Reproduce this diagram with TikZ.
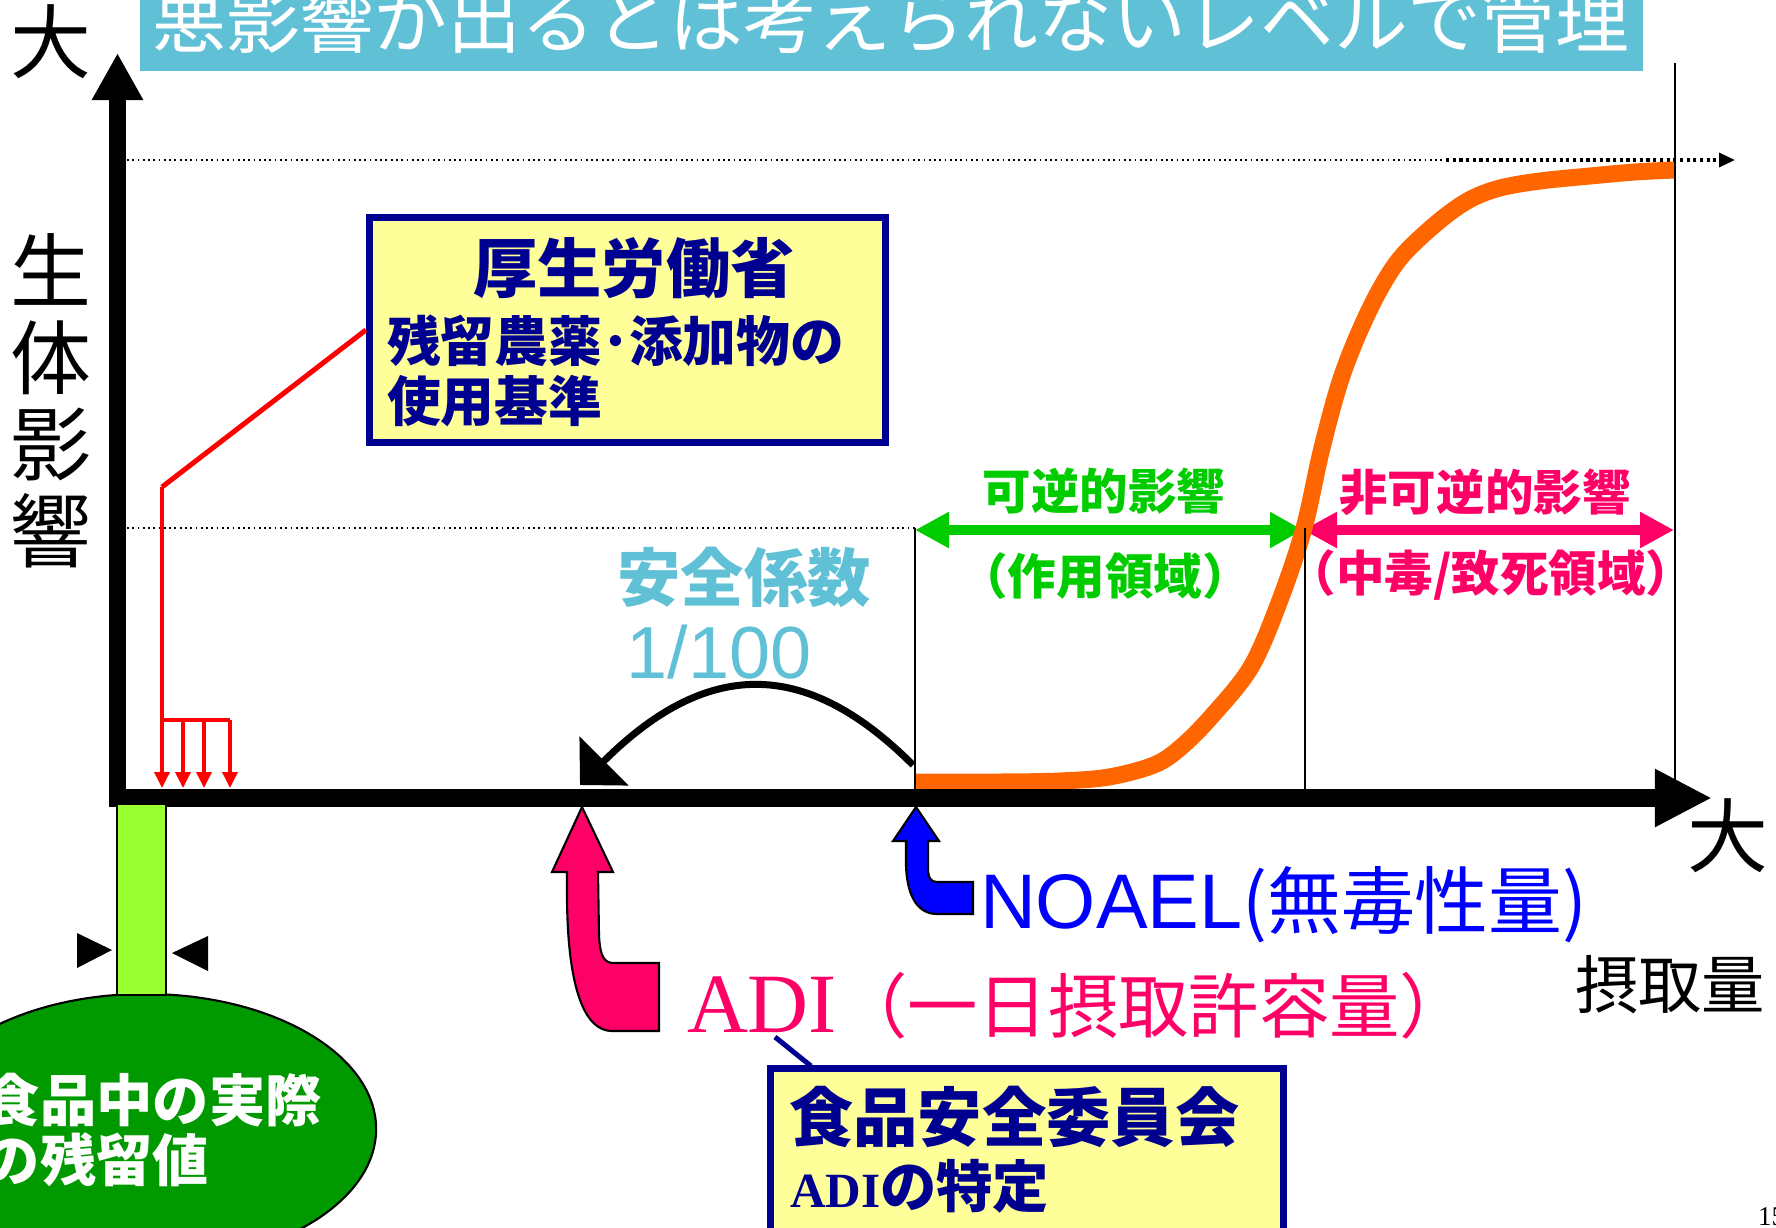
\documentclass[tikz,border=0pt]{standalone}
\usepackage{fontspec}
\setmainfont{Liberation Serif}
\newfontfamily\jp{Noto Sans CJK JP}
\newfontfamily\arialfont{Liberation Sans}
\usetikzlibrary{arrows.meta}

\definecolor{skyband}{HTML}{5FC0D6}
\definecolor{navy}{HTML}{000090}
\definecolor{boxyellow}{HTML}{FFFF99}
\definecolor{curveorange}{HTML}{FF6600}
\definecolor{okgreen}{HTML}{00CC00}
\definecolor{hotpink}{HTML}{FF0066}
\definecolor{limebar}{HTML}{99FF33}
\definecolor{darkgreen}{HTML}{009900}

\newcommand{\sz}[2]{\fontsize{#1}{#2}\selectfont}

\tikzset{
  txt/.style={inner sep=0pt, outer sep=0pt},
  yellowbox/.style={draw=navy, fill=boxyellow, line width=0.07cm, inner sep=0pt},
  redline/.style={red, line width=0.035cm},
  redarrow/.style={redline, -{Triangle[length=0.16cm,width=0.15cm]}},
  blockarrow/.style={draw=black, line width=0.6pt},
  thinline/.style={line width=0.6pt},
}

\begin{document}
\begin{tikzpicture}[x=0.01cm, y=-0.01cm]
\useasboundingbox (0,0) rectangle (1776,1227);

% banner
\fill[skyband] (140,0) rectangle (1643,71);
\node[txt, text=white, font=\jp\sz{21}{21}] (title) at (891,19) {悪影響が出るとは考えられないレベルで管理};

\coordinate (corner) at (117.5,807);
\coordinate (ytip) at (117.5,53);
\coordinate (xstart) at (109,798);
\coordinate (xtip) at (1712,798);
\coordinate (adipt) at (582,807);
\coordinate (noaelpt) at (916,807);
\coordinate (sfstart) at (913,765);
\coordinate (sfend) at (580,785);
\coordinate (bend) at (162,487);
\coordinate (fork) at (162,720);
\foreach \i/\x in {1/162,2/183,3/204,4/230}
  \coordinate (r\i) at (\x,788);

% dotted levels
\draw[densely dotted, line width=0.5pt] (127,160) -- (1443,160);
\draw[densely dotted, line width=0.9pt, -{Triangle[length=0.16cm,width=0.14cm]}] (1446,160) -- (1735,160);
\draw[densely dotted, line width=0.5pt] (127,528) -- (915,528);

% ranges
\draw[okgreen, line width=0.107cm, {Triangle[length=0.34cm,width=0.34cm]}-{Triangle[length=0.33cm,width=0.34cm]}] (915,530) -- (1303,530);
\draw[hotpink, line width=0.107cm, {Triangle[length=0.34cm,width=0.34cm]}-{Triangle[length=0.34cm,width=0.34cm]}] (1303,530) -- (1674,530);

% dose-response curve
\draw[curveorange, line width=0.17cm] plot[smooth, tension=0.55] coordinates {
  (915,782) (1000,782) (1060,781) (1109,777) (1154,765) (1180,748) (1211,717)
  (1251,667) (1280,600) (1304,528) (1321,452) (1339,385) (1357,337) (1379,291)
  (1402,256) (1438,222) (1469,200) (1500,188) (1540,181) (1590,176) (1635,172) (1675,170)};

\draw[thinline] (915,528) -- (915,789);
\draw[thinline] (1305,528) -- (1305,789);
\draw[thinline] (1675,63) -- (1675,789);

% axes
\draw[line width=0.17cm, -{Triangle[length=0.47cm,width=0.48cm]}] (corner) -- (ytip);
\draw[line width=0.18cm, -{Triangle[length=0.57cm,width=0.54cm]}] (xstart) -- (xtip);

\node[txt, font=\jp\sz{23}{23}] (bigy) at (51,42) {大};
\node[txt, font=\jp\sz{23}{24.6}, align=center] (ylabel) at (51,401) {生\\体\\影\\響};
\node[txt, font=\jp\sz{23}{23}] (bigx) at (1728,836) {大};
\node[txt, font=\jp\sz{18}{18}] (xlabel) at (1670,985) {摂取量};

% range labels
\node[txt, text=okgreen, font=\jp\bfseries\sz{13.8}{13.8}] (rev) at (1104,491) {可逆的影響};
\node[txt, text=okgreen, font=\jp\bfseries\sz{13.8}{13.8}] (revsub) at (1105,576) {（作用領域）};
\node[txt, text=hotpink, font=\jp\bfseries\sz{13.8}{13.8}] (irrev) at (1485,492) {非可逆的影響};
\node[txt, text=hotpink, font=\jp\bfseries\sz{13.8}{13.8}] (irrevsub) at (1491,575) {（中毒/致死領域）};

% safety factor
\node[txt, text=skyband, font=\jp\bfseries\sz{18}{18}] (sf) at (744,577) {安全係数};
\node[txt, text=skyband, font=\arialfont\sz{21}{21}] (sfval) at (719,652) {1/100};
\draw[line width=0.07cm, -{Triangle[length=0.34cm,width=0.68cm]}] (sfstart) .. controls (810,662) and (711,654) .. (sfend);

% MHLW box
\node[yellowbox, minimum width=5.16cm, minimum height=2.25cm] (mhlw) at (627.5,330) {};
\node[txt, text=navy, font=\jp\bfseries\sz{18.3}{18.3}] (mhlwhead) at (634,268) {厚生労働省};
\node[txt, text=navy, font=\jp\bfseries\sz{15.3}{15.3}, anchor=west] (mhlwline1) at (387,341) {残留農薬･添加物の};
\node[txt, text=navy, font=\jp\bfseries\sz{15.3}{15.3}, anchor=west] (mhlwline2) at (387,401) {使用基準};
\draw[red, line width=0.05cm] (mhlw.west) -- (bend);
\draw[redarrow] (bend) -- (r1);
\draw[redline] (fork) -- (r4 |- fork);
\foreach \i in {2,3,4}
  \draw[redarrow] (r\i |- fork) -- (r\i);

% residue in food
\draw[fill=darkgreen, line width=0.6pt] (145,1129) ellipse [x radius=2.31cm, y radius=1.35cm];
\draw[fill=limebar, line width=0.5pt] (117,804) rectangle (166,995);
\fill (77,933) -- (77,968) -- (112,950) -- cycle;
\fill (208,936) -- (208,971) -- (172,953) -- cycle;
\node[txt, text=white, font=\jp\bfseries\sz{16}{16.8}, align=left, anchor=west] (foodtxt) at (-16,1130) {食品中の実際\\の残留値};

% block arrows
\draw[blockarrow, fill=hotpink] (adipt) -- (613,872) -- (598,872) -- (599,935)
  .. controls (600,958) and (605,963) .. (614,963) -- (659,963) -- (659,1031) -- (612,1031)
  .. controls (585,1031) and (568,990) .. (567,900) -- (567,872) -- (552,872) -- cycle;
\draw[blockarrow, fill=blue] (noaelpt) -- (939,841) -- (928,841) -- (928,868)
  .. controls (928,878) and (931,882) .. (937,882) -- (973,882) -- (973,914) -- (937,914)
  .. controls (920,914) and (907,900) .. (906,865) -- (906,841) -- (893,841) -- cycle;

\node[txt, text=blue, font=\arialfont\sz{22}{22}, anchor=base west] (noael) at (980,928) {NOAEL};
\node[txt, text=blue, font=\jp\sz{21}{21}, anchor=base west] (noaeljp) at (noael.base east) {(無毒性量)};
\node[txt, text=hotpink, font=\sz{24}{24}, anchor=base west] (adi) at (687,1032) {ADI};
\node[txt, text=hotpink, font=\jp\sz{20}{20}, anchor=base west] (adijp) at (adi.base east) {（一日摂取許容量）};

% FSC box
\coordinate (adifoot) at (775,1037);
\coordinate (fsctop) at (811,1066);
\node[yellowbox, line width=0.065cm, minimum width=5.13cm, minimum height=2.2cm] (fsc) at (1027,1178.5) {};
\draw[navy, line width=0.05cm] (adifoot) -- (fsctop);
\node[txt, text=navy, font=\jp\bfseries\sz{18.3}{18.3}, anchor=west] (fschead) at (789,1117) {食品安全委員会};
\node[txt, text=navy, font=\bfseries\sz{14}{14}, anchor=base west] (fscadi) at (790,1207) {ADI};
\node[txt, text=navy, font=\jp\bfseries\sz{16}{16}, anchor=base west] (fscline) at (fscadi.base east) {の特定};

\node[txt, font=\sz{7.7}{7.7}, anchor=base west] (pageno) at (1758,1225) {15};
\end{tikzpicture}
\end{document}
